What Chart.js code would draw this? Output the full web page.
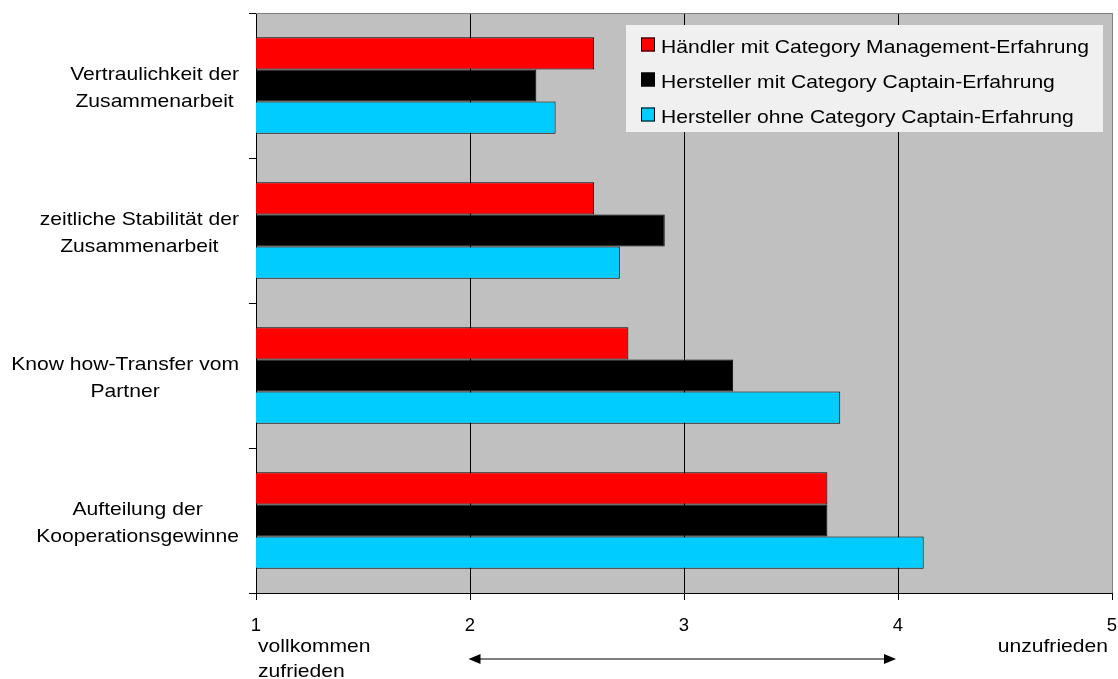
<!DOCTYPE html>
<html lang="de">
<head>
<meta charset="utf-8">
<title>Zufriedenheit mit der Zusammenarbeit</title>
<script src="https://cdn.jsdelivr.net/npm/chart.js@4"></script>
<style>
  html, body { margin: 0; padding: 0; background: #fff; }
  #wrap { width: 1118px; height: 679px; position: relative; }
</style>
</head>
<body>
<div id="wrap"><canvas id="chart"></canvas></div>
<script>
// Kategorien (zweizeilige Beschriftung)
const categories = [
  ['Vertraulichkeit der', 'Zusammenarbeit'],
  ['zeitliche Stabilität der', 'Zusammenarbeit'],
  ['Know how-Transfer vom', 'Partner'],
  ['Aufteilung der', 'Kooperationsgewinne']
];

// Reihen
const seriesNames = [
  'Händler mit Category Management-Erfahrung',
  'Hersteller mit Category Captain-Erfahrung',
  'Hersteller ohne Category Captain-Erfahrung'
];
const haendlerMitCM = [2.58, 2.58, 2.74, 3.67];
const herstellerMitCC = [2.31, 2.91, 3.23, 3.67];
const herstellerOhneCC = [2.40, 2.70, 3.73, 4.12];
const seriesColors = ['#FF0000', '#000000', '#00CCFF'];

// Skala 1 (vollkommen zufrieden) bis 5 (unzufrieden)
const xTicks = [1, 2, 3, 4, 5];
const lowEndLabel = ['vollkommen', 'zufrieden'];
const highEndLabel = 'unzufrieden';

const FONT_FAMILY = "'Liberation Sans', Arial, Helvetica, sans-serif";
const FONT_SIZE = 18.5;
const STRETCH = 1.14; // horizontal text stretch

function drawText(ctx, text, x, y, align) {
  const w = ctx.measureText(text).width * STRETCH;
  let x0 = x;
  if (align === 'right') x0 = x - w;
  else if (align === 'center') x0 = x - w / 2;
  ctx.save();
  ctx.translate(x0, y);
  ctx.scale(STRETCH, 1);
  ctx.textAlign = 'left';
  ctx.textBaseline = 'alphabetic';
  ctx.fillText(text, 0, 0);
  ctx.restore();
}

// Grauer Plothintergrund und oberer Rahmen
const plotFrame = {
  id: 'plotFrame',
  beforeDraw(chart) {
    const { ctx, chartArea: a } = chart;
    ctx.save();
    ctx.fillStyle = '#C0C0C0';
    ctx.fillRect(a.left, a.top, a.right - a.left, a.bottom - a.top);
    ctx.restore();
  },
  afterDatasetsDraw(chart) {
    const { ctx, chartArea: a } = chart;
    ctx.save();
    ctx.strokeStyle = '#808080';
    ctx.lineWidth = 1;
    ctx.beginPath();
    ctx.moveTo(a.left, a.top + 0.5);
    ctx.lineTo(a.right + 0.5, a.top + 0.5);
    ctx.stroke();
    ctx.restore();
  }
};

// Kategoriebeschriftungen, zentriert je Block
const categoryLabels = {
  id: 'categoryLabels',
  afterDraw(chart) {
    const { ctx } = chart;
    const y = chart.scales.y;
    ctx.save();
    ctx.font = FONT_SIZE + 'px ' + FONT_FAMILY;
    ctx.fillStyle = '#000';
    categories.forEach((lines, idx) => {
      const center = y.getPixelForValue(idx);
      const widest = Math.max(...lines.map(l => ctx.measureText(l).width)) * STRETCH;
      const cx = y.right - 17 - widest / 2;
      const n = lines.length;
      lines.forEach((line, i) => {
        const base = center + 7.5 + (i - (n - 1) / 2) * 27;
        drawText(ctx, line, cx, base, 'center');
      });
    });
    ctx.restore();
  }
};

// Legende im Plotbereich
const boxLegend = {
  id: 'boxLegend',
  afterDraw(chart) {
    const { ctx, chartArea: a } = chart;
    const w = 477, h = 107;
    const left = a.right - 9 - w;
    const top = a.top + 12;
    ctx.save();
    ctx.fillStyle = '#F0F0F0';
    ctx.fillRect(left, top, w, h);
    ctx.font = FONT_SIZE + 'px ' + FONT_FAMILY;
    chart.data.datasets.forEach((ds, i) => {
      const sqTop = top + 12.5 + i * 35;
      ctx.fillStyle = ds.backgroundColor;
      ctx.fillRect(left + 15, sqTop, 14, 14);
      ctx.strokeStyle = '#000';
      ctx.lineWidth = 1;
      ctx.strokeRect(left + 15.5, sqTop + 0.5, 13, 13);
      ctx.fillStyle = '#000';
      drawText(ctx, ds.label, left + 35, sqTop + 15, 'left');
    });
    ctx.restore();
  }
};

// Skalenenden und Doppelpfeil unter der x-Achse
const scaleNotes = {
  id: 'scaleNotes',
  afterDraw(chart) {
    const { ctx } = chart;
    const x = chart.scales.x;
    const x1 = x.getPixelForValue(xTicks[0]);
    const x5 = x.getPixelForValue(xTicks[xTicks.length - 1]);
    const bottom = x.top;
    ctx.save();
    ctx.font = FONT_SIZE + 'px ' + FONT_FAMILY;
    ctx.fillStyle = '#000';
    drawText(ctx, lowEndLabel[0], x1 + 2, bottom + 59, 'left');
    drawText(ctx, lowEndLabel[1], x1 + 2, bottom + 84, 'left');
    drawText(ctx, highEndLabel, x5 - 4, bottom + 59, 'right');

    const ay = bottom + 66;
    const ax0 = x.getPixelForValue(2) - 1.5;
    const ax1 = x.getPixelForValue(4) - 2;
    const head = 12, half = 5;
    ctx.strokeStyle = '#555';
    ctx.lineWidth = 1.5;
    ctx.beginPath();
    ctx.moveTo(ax0 + head - 1, ay);
    ctx.lineTo(ax1 - head + 1, ay);
    ctx.stroke();
    ctx.fillStyle = '#000';
    ctx.beginPath();
    ctx.moveTo(ax0, ay);
    ctx.lineTo(ax0 + head, ay - half);
    ctx.lineTo(ax0 + head, ay + half);
    ctx.closePath();
    ctx.fill();
    ctx.beginPath();
    ctx.moveTo(ax1, ay);
    ctx.lineTo(ax1 - head, ay - half);
    ctx.lineTo(ax1 - head, ay + half);
    ctx.closePath();
    ctx.fill();
    ctx.restore();
  }
};

const seriesValues = [haendlerMitCM, herstellerMitCC, herstellerOhneCC];

new Chart(document.getElementById('chart'), {
  type: 'bar',
  data: {
    labels: categories.map(l => l.join(' ')),
    datasets: seriesNames.map((name, i) => ({
      label: name,
      data: seriesValues[i],
      backgroundColor: seriesColors[i],
      borderColor: '#000',
      borderWidth: 1,
      borderSkipped: false,
      categoryPercentage: 0.665,
      barPercentage: 1.0
    }))
  },
  options: {
    indexAxis: 'y',
    responsive: true,
    maintainAspectRatio: false,
    animation: false,
    events: [],
    layout: { padding: { top: 13, right: 6, bottom: 0, left: 0 } },
    plugins: {
      legend: { display: false },
      tooltip: { enabled: false },
      title: { display: false }
    },
    scales: {
      x: {
        type: 'linear',
        min: xTicks[0],
        max: xTicks[xTicks.length - 1],
        afterBuildTicks(scale) {
          scale.ticks = xTicks.map(v => ({ value: v }));
        },
        afterFit(scale) {
          scale.height = 86;
          scale.paddingLeft = 0;
          scale.paddingRight = 0;
        },
        ticks: {
          color: '#000',
          padding: 15,
          maxRotation: 0,
          font: { family: FONT_FAMILY, size: FONT_SIZE }
        },
        grid: {
          color: c => (c.tick && c.tick.value === 5 ? '#808080' : '#000'),
          lineWidth: 1,
          drawTicks: true,
          tickLength: 7,
          tickColor: '#000'
        },
        border: { display: true, color: '#000', width: 1 }
      },
      y: {
        type: 'category',
        offset: true,
        afterFit(scale) {
          scale.width = 256;
          scale.paddingTop = 0;
          scale.paddingBottom = 0;
        },
        ticks: { display: false },
        grid: {
          offset: true,
          drawOnChartArea: false,
          drawTicks: true,
          tickLength: 7,
          tickColor: '#000'
        },
        border: { display: true, color: '#000', width: 1 }
      }
    }
  },
  plugins: [plotFrame, categoryLabels, boxLegend, scaleNotes]
});
</script>
</body>
</html>
